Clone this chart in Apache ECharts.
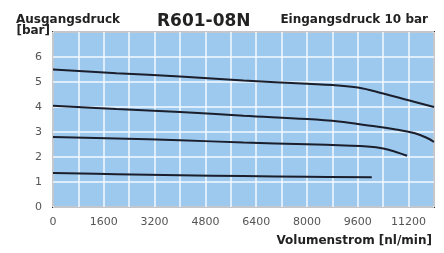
<!DOCTYPE html>
<html>
<head>
<meta charset="utf-8">
<script src="https://cdn.jsdelivr.net/npm/echarts@6/dist/echarts.min.js"></script>
<style>
    html, body { margin: 0; padding: 0; background: #fff; }
    #chart { width: 444px; height: 253px; }
</style>
</head>
<body>
<div id="chart"></div>
<script>
// Kennlinien R601-08N, Eingangsdruck 10 bar
var flowTicks = [0, 1600, 3200, 4800, 6400, 8000, 9600, 11200];

var flow1 = [0, 2000, 4000, 6000, 8000, 8800, 9600, 10400, 11200, 12000];
var druck1 = [5.5, 5.35, 5.22, 5.06, 4.93, 4.88, 4.78, 4.54, 4.27, 4.0];

var flow2 = [0, 2000, 4000, 6000, 8000, 9000, 10000, 10800, 11400, 11800, 12000];
var druck2 = [4.05, 3.92, 3.8, 3.65, 3.52, 3.42, 3.25, 3.1, 2.95, 2.75, 2.6];

var flow3 = [0, 2000, 4000, 6000, 8000, 9200, 9900, 10400, 10800, 11150];
var druck3 = [2.8, 2.74, 2.67, 2.58, 2.51, 2.46, 2.42, 2.34, 2.2, 2.05];

var flow4 = [0, 2000, 4000, 6000, 8000, 10040];
var druck4 = [1.36, 1.31, 1.27, 1.24, 1.21, 1.19];

function pairs(xs, ys) {
    return xs.map(function (x, i) { return [x, ys[i]]; });
}

(function () {
    var myChart = echarts.init(document.getElementById('chart'));
    var lineStyle = { color: '#1b1e2b', width: 2 };
    var kurven = [pairs(flow1, druck1), pairs(flow2, druck2), pairs(flow3, druck3), pairs(flow4, druck4)];

    var option = {
        animation: false,
        textStyle: { fontFamily: 'DejaVu Sans' },
        grid: {
            left: 53,
            right: 10,
            top: 32,
            bottom: 46,
            show: true,
            backgroundColor: '#9dc9ee',
            borderColor: '#333',
            borderWidth: 2
        },
        graphic: [
            { type: 'text', left: 16, top: 14, style: { text: 'Ausgangsdruck', font: 'bold 12px "DejaVu Sans"', fill: '#222' } },
            { type: 'text', right: 394, top: 25, style: { text: '[bar]', font: 'bold 12px "DejaVu Sans"', fill: '#222' } },
            { type: 'text', left: 157, top: 13, style: { text: 'R601-08N', font: 'bold 17px "DejaVu Sans"', fill: '#222' } },
            { type: 'text', right: 16, top: 14, style: { text: 'Eingangsdruck 10 bar', font: 'bold 12px "DejaVu Sans"', fill: '#222' } },
            { type: 'text', right: 12, top: 235, style: { text: 'Volumenstrom [nl/min]', font: 'bold 12px "DejaVu Sans"', fill: '#222' } }
        ],
        xAxis: {
            type: 'value',
            min: 0,
            max: 12000,
            interval: 800,
            axisLine: { show: false },
            axisTick: { show: false },
            axisLabel: {
                color: '#555',
                fontSize: 11,
                margin: 10,
                showMaxLabel: false,
                formatter: function (v) {
                    return flowTicks.indexOf(v) >= 0 ? String(v) : '';
                }
            },
            splitLine: { lineStyle: { color: '#f4f9ff', width: 1.5 } }
        },
        yAxis: {
            type: 'value',
            min: 0,
            max: 7,
            interval: 1,
            axisLine: { show: false },
            axisTick: { show: false },
            axisLabel: { color: '#555', fontSize: 11, margin: 11, showMaxLabel: false },
            splitLine: { lineStyle: { color: '#f4f9ff', width: 1.5 } }
        },
        series: kurven.map(function (d) {
            return {
                type: 'line',
                data: d,
                smooth: 0.4,
                symbol: 'none',
                lineStyle: lineStyle
            };
        })
    };
    myChart.setOption(option);
    window.addEventListener('resize', function () {
        myChart.resize();
    });
})();
</script>
</body>
</html>
